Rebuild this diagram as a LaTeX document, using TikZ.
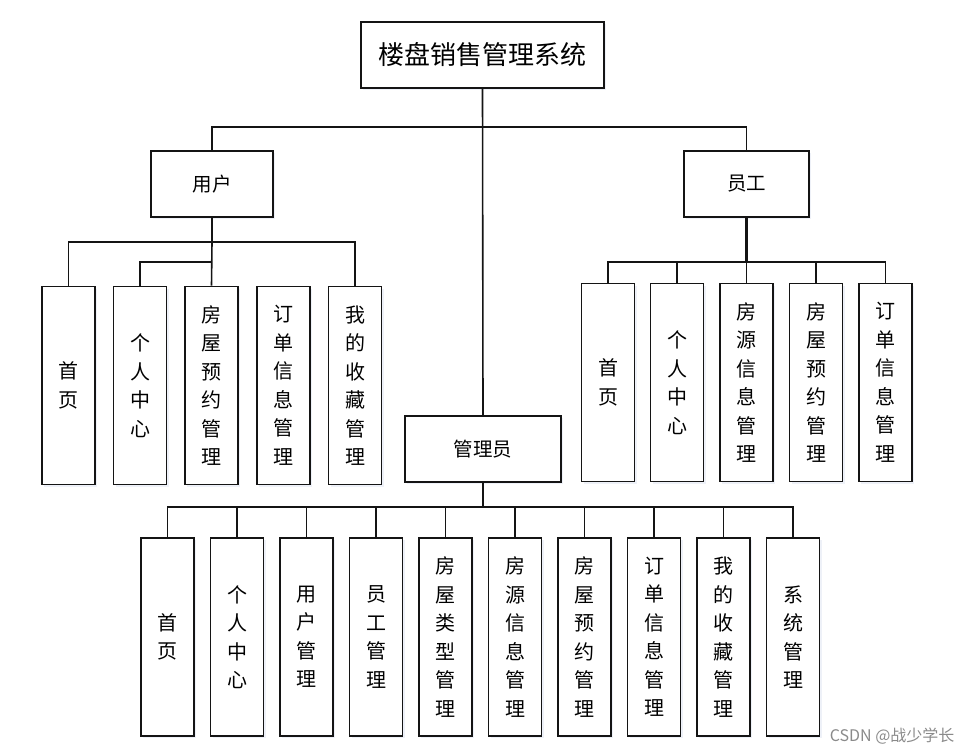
\documentclass[tikz,border=0pt]{standalone}
\usepackage{fontspec}
\newfontfamily\cjk{Noto Sans CJK SC}
\usepackage{tikz}
\usetikzlibrary{positioning, shadows}

\begin{document}
\begin{tikzpicture}[x=1pt, y=-1pt, font=\cjk,
  box/.style={draw=boxline, line width=1.8pt, fill=white, inner sep=0pt,
    drop shadow={shadow xshift=2pt, shadow yshift=-2pt, opacity=0.18, fill=shadowblue}},
  head/.style={box, minimum height=66pt, font=\cjk\fontsize{19.5}{21}\selectfont},
  leaf/.style={box, minimum width=53pt, minimum height=198pt, align=center,
    font=\cjk\fontsize{20}{28.5}\selectfont},
  link/.style={draw=boxline, line width=1.6pt},
  trunk/.style={draw=boxline, line width=2.8pt}]
  \definecolor{boxline}{HTML}{141414}
  \definecolor{shadowblue}{HTML}{9FB4D8}
  \definecolor{markgray}{HTML}{8A8A8A}

  \useasboundingbox (0,0) rectangle (974,753);

  \node[box, minimum width=243pt, minimum height=66pt, font=\cjk\fontsize{26}{28}\selectfont] (sys) at (482.5,55) {楼盘销售管理系统};
  \node[head, minimum width=122pt] (user) at (212,184) {用户};
  \node[head, minimum width=125pt] (staff) at (746.5,184) {员工};
  \node[head, minimum width=156pt] (adm) at (483,449) {管理员};

  % user
  \node[leaf] (u1) at (68.5,385.5) {首\\页};
  \node[leaf] (u2) at (140,385.5) {个\\人\\中\\心};
  \node[leaf] (u3) at (211.5,385.5) {房\\屋\\预\\约\\管\\理};
  \node[leaf] (u4) at (283.5,385.5) {订\\单\\信\\息\\管\\理};
  \node[leaf] (u5) at (355,385.5) {我\\的\\收\\藏\\管\\理};

  % staff
  \node[leaf] (s1) at (608,382.5) {首\\页};
  \node[leaf] (s2) at (677,382.5) {个\\人\\中\\心};
  \node[leaf] (s3) at (746.5,382.5) {房\\源\\信\\息\\管\\理};
  \node[leaf] (s4) at (816,382.5) {房\\屋\\预\\约\\管\\理};
  \node[leaf] (s5) at (885.5,382.5) {订\\单\\信\\息\\管\\理};

  % admin
  \node[leaf] (a1) at (167.5,637) {首\\页};
  \node[leaf] (a2) at (237,637) {个\\人\\中\\心};
  \node[leaf] (a3) at (306.5,637) {用\\户\\管\\理};
  \node[leaf] (a4) at (376,637) {员\\工\\管\\理};
  \node[leaf] (a5) at (445.5,637) {房\\屋\\类\\型\\管\\理};
  \node[leaf] (a6) at (515,637) {房\\源\\信\\息\\管\\理};
  \node[leaf] (a7) at (584.5,637) {房\\屋\\预\\约\\管\\理};
  \node[leaf] (a8) at (654,637) {订\\单\\信\\息\\管\\理};
  \node[leaf] (a9) at (723.5,637) {我\\的\\收\\藏\\管\\理};
  \node[leaf] (a10) at (793,637) {系\\统\\管\\理};

  \coordinate (rbus) at (483,127);
  \coordinate (ubus) at (212,242);
  \coordinate (ubend) at (212,262);
  \coordinate (sbus) at (746.5,262);
  \coordinate (abus) at (483,507);

  \draw[link] (sys.south) -- (adm.north);
  \draw[link] (user.north) |- (rbus) -| (staff.north);

  \draw[trunk] (user.south) -- (ubus);
  \draw[link] (u1.north) |- (ubus) -| (u5.north);
  \draw[link] (ubus) -- (u3.north);
  \draw[link] (ubend) -| (u2.north);

  \draw[trunk] (staff.south) -- (sbus);
  \draw[link] (s1.north) |- (sbus) -| (s5.north);
  \foreach \n in {s2,s3,s4}
    \draw[link] (sbus -| \n.north) -- (\n.north);

  \draw[trunk] (adm.south) -- (abus);
  \draw[link] (a1.north) |- (abus) -| (a10.north);
  \foreach \i in {2,...,9}
    \draw[link] (abus -| a\i.north) -- (a\i.north);

  \node[anchor=east, text=markgray, font=\cjk\fontsize{16}{18}\selectfont] (mark) at (958,736) {CSDN @战少学长};
\end{tikzpicture}
\end{document}
